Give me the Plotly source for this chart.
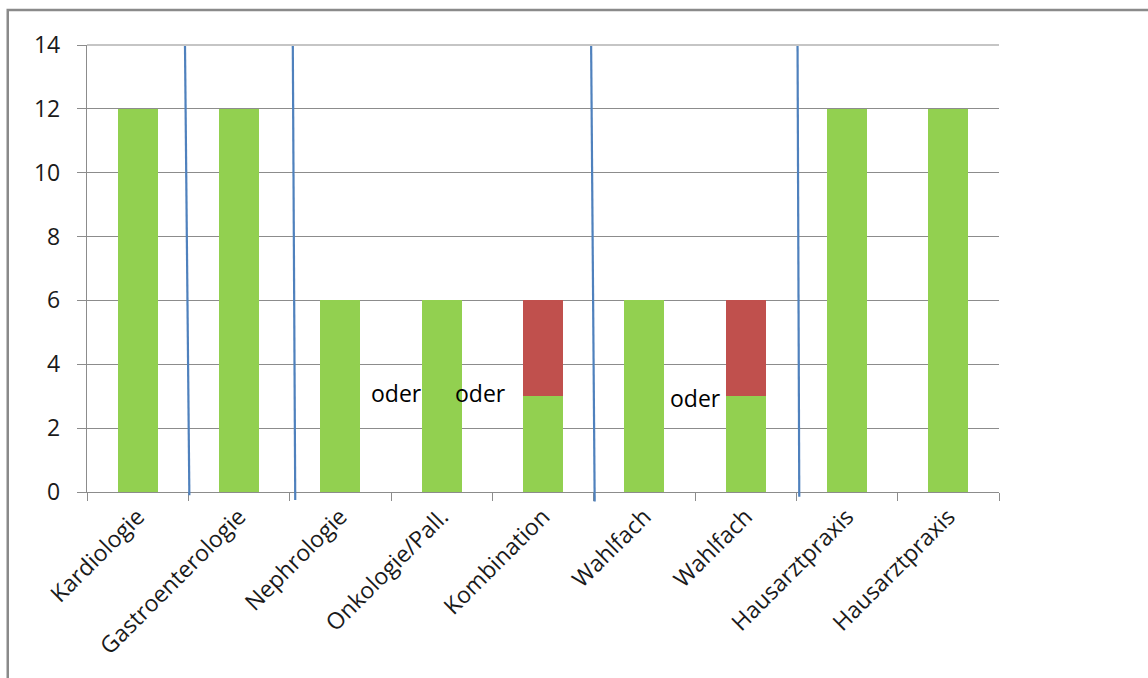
import plotly.graph_objects as go

categories = ["Kardiologie", "Gastroenterologie", "Nephrologie", "Onkologie/Pall.",
              "Kombination", "Wahlfach", "Wahlfach", "Hausarztpraxis", "Hausarztpraxis"]
green_values = [12, 12, 6, 6, 3, 6, 3, 12, 12]
red_values = [0, 0, 0, 0, 3, 0, 3, 0, 0]
y_ticks = [0, 2, 4, 6, 8, 10, 12, 14]

# "oder" labels (position in category index / value units)
oder_text = ["oder", "oder", "oder"]
oder_x = [2.55, 3.38, 5.50]
oder_y = [3.1, 3.1, 2.95]

# hand-drawn blue separators: (x top, x bottom) in category index units, bottom value
div_x_top = [0.467, 1.531, 4.475, 6.512]
div_x_bot = [0.510, 1.555, 4.510, 6.529]
div_y_bot = [-0.1, -0.25, -0.3, -0.15]

GREEN = "#92D050"
RED = "#C0504D"
BLUE = "#4F81BD"
GRID = "#8C8C8C"
FONT = "Open Sans"
YMAX = 14

n = len(categories)
idx = list(range(n))
boundaries = [i - 0.5 for i in range(n + 1)]

fig = go.Figure()
fig.add_trace(go.Bar(x=idx, y=green_values, marker=dict(color=GREEN, line=dict(width=0)),
                     hoverinfo="skip"))
fig.add_trace(go.Bar(x=idx, y=red_values, marker=dict(color=RED, line=dict(width=0)),
                     hoverinfo="skip"))

shapes = []
# top gridline at 14
shapes.append(dict(type="line", xref="paper", yref="paper", x0=0, x1=1, y0=1, y1=1,
                   line=dict(color=GRID, width=1.1), layer="below"))
for xt, xb, yb in zip(div_x_top, div_x_bot, div_y_bot):
    shapes.append(dict(type="line", xref="x", yref="paper",
                       x0=xt, y0=13.97 / YMAX, x1=xb, y1=yb / YMAX,
                       line=dict(color=BLUE, width=2.2), layer="above"))
# outer chart border
shapes.append(dict(type="rect", xref="paper", yref="paper",
                   x0=-0.0869, x1=1.3, y0=-0.6, y1=1.0783,
                   line=dict(color="#8A8A8A", width=2.5), layer="below"))

annotations = [dict(x=x, y=y, xref="x", yref="y", text=t, showarrow=False,
                    font=dict(family=FONT, size=23, color="#000000"))
               for t, x, y in zip(oder_text, oder_x, oder_y)]

fig.update_layout(
    width=1148, height=678,
    margin=dict(l=87, r=149, t=45, b=186),
    paper_bgcolor="white", plot_bgcolor="white",
    barmode="stack", bargap=0.605, showlegend=False,
    shapes=shapes, annotations=annotations,
    font=dict(family=FONT, color="#1a1a1a"),
)
fig.update_xaxes(
    type="linear",
    tickmode="array", tickvals=idx, ticktext=categories,
    range=[-0.5, n - 0.5],
    tickangle=-45, tickfont=dict(family=FONT, size=23, color="#1a1a1a"),
    showline=True, linecolor=GRID, linewidth=1.3,
    ticks="outside", ticklen=1, tickcolor="rgba(0,0,0,0)",
    minor=dict(tickmode="array", tickvals=boundaries, ticks="outside", ticklen=8,
               tickcolor=GRID, tickwidth=1.3, showgrid=False),
    showgrid=False, zeroline=False,
)
fig.update_yaxes(
    range=[0, YMAX], tickmode="array", tickvals=y_ticks,
    tickfont=dict(family=FONT, size=23, color="#1a1a1a"),
    ticklabelstandoff=12,
    showline=True, linecolor=GRID, linewidth=1.3,
    ticks="outside", ticklen=9, tickcolor=GRID, tickwidth=1.3,
    showgrid=True, gridcolor=GRID, gridwidth=1.1, zeroline=False,
)

fig.write_html("out.html")
